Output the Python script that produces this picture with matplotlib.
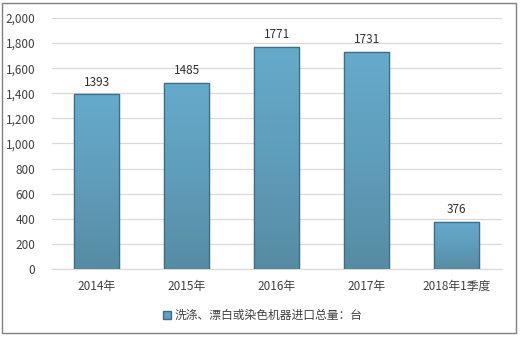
import numpy as np
import matplotlib.pyplot as plt
from matplotlib.patches import Rectangle
from matplotlib.colors import LinearSegmentedColormap

plt.rcParams['font.family'] = ['Noto Sans CJK SC', 'DejaVu Sans']

categories = ["2014年", "2015年", "2016年", "2017年", "2018年1季度"]
values = [1393, 1485, 1771, 1731, 376]
series_name = "洗涤、漂白或染色机器进口总量：台"
yticks = [0, 200, 400, 600, 800, 1000, 1200, 1400, 1600, 1800, 2000]

fig = plt.figure(figsize=(5.2, 3.39), dpi=100)
ax = fig.add_axes([0.1, 0.2065, 0.865, 0.7405])

x = np.arange(len(categories))
bars = ax.bar(x, values, width=0.5, color="#5f9fbf", edgecolor="#3d6e86",
              linewidth=0.9, zorder=3, label=series_name)

# gradient fill clipped to each bar
grad = np.linspace(0, 1, 256).reshape(-1, 1)
cmap = LinearSegmentedColormap.from_list("g", ["#568ca3", "#5f9dbb", "#66aacb"])
for b in bars:
    x0, y0 = b.get_x(), b.get_y()
    w, h = b.get_width(), b.get_height()
    im = ax.imshow(grad, extent=[x0, x0 + w, y0, y0 + h], origin="lower",
                   cmap=cmap, aspect="auto", zorder=3.5)
    im.set_clip_path(b)
    ax.add_patch(Rectangle((x0, y0), w, h, fill=False, edgecolor="#3d6e86",
                           linewidth=0.9, zorder=4))

for xi, v in zip(x, values):
    ax.text(xi, v + 45, str(v), ha="center", va="bottom", fontsize=8.5,
            color="#303030")

ax.set_xlim(-0.5, len(categories) - 0.5)
ax.set_ylim(0, 2000)
ax.set_yticks(yticks)
ax.set_yticklabels([f"{t:,}" for t in yticks])
ax.set_xticks(x)
ax.set_xticklabels(categories)
ax.tick_params(axis="both", length=0, labelsize=8.5, colors="#404040")
ax.tick_params(axis="x", pad=8)
ax.tick_params(axis="y", pad=12)
ax.grid(axis="y", color="#d9d9d9", linewidth=0.9, zorder=0)
for s in ["top", "right", "left"]:
    ax.spines[s].set_visible(False)
ax.spines["bottom"].set_color("#d9d9d9")
ax.set_axisbelow(True)

leg = fig.legend(handles=[Rectangle((0, 0), 1, 1, facecolor="#5f9fbf",
                                    edgecolor="#3d6e86")],
                 labels=[series_name], loc="center", bbox_to_anchor=(0.505, 0.07),
                 frameon=False, fontsize=8.5, handlelength=0.7, handleheight=0.7,
                 handletextpad=0.3)
for t in leg.get_texts():
    t.set_color("#404040")

fig.patches.append(Rectangle((0.004, 0.018), 0.988, 0.972, transform=fig.transFigure,
                             fill=False, edgecolor="#808080", linewidth=1.0))

fig.savefig("out.png", dpi=100)
